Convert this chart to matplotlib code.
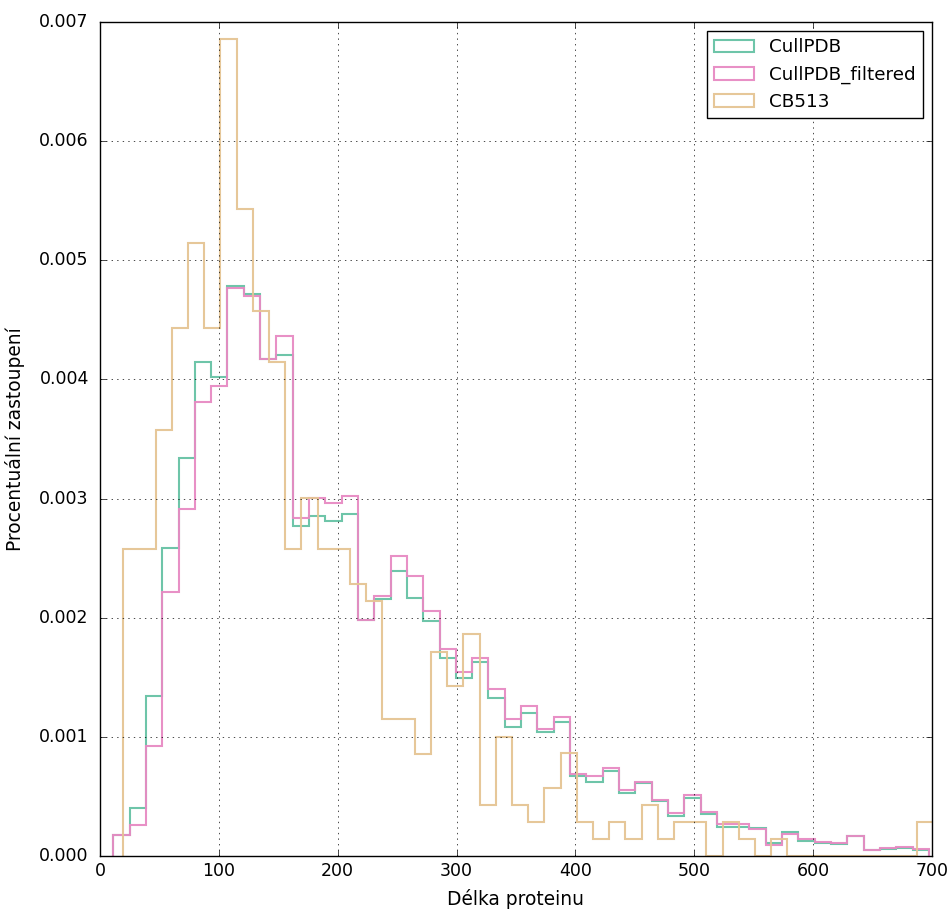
import numpy as np
import matplotlib
matplotlib.use("Agg")
import matplotlib.pyplot as plt

# bin edges, 50 bins each
cull_edges = np.linspace(11.2, 697.4, 51)
cb513_edges = np.linspace(19.5, 701.0, 51)

# CullPDB
cull = [0.000176, 0.00040, 0.001343, 0.002583, 0.003343, 0.004144, 0.004023, 0.004787, 0.004715, 0.004169,
        0.004205, 0.002773, 0.002856, 0.002812, 0.002873, 0.001981, 0.002157, 0.002395, 0.002168, 0.001975,
        0.001665, 0.001497, 0.001631, 0.001323, 0.001086, 0.001203, 0.001038, 0.001122, 0.000674, 0.000624,
        0.000716, 0.000526, 0.000610, 0.000460, 0.000336, 0.000490, 0.000350, 0.000246, 0.000246, 0.000238,
        0.000106, 0.000199, 0.000129, 0.000112, 0.000100, 0.000165, 0.000048, 0.000060, 0.000070, 0.000050]

# CullPDB_filtered
cull_filtered = [0.000176, 0.00026, 0.000926, 0.002213, 0.002913, 0.003814, 0.003945, 0.004765, 0.004698, 0.004169,
                 0.004367, 0.002834, 0.003002, 0.002960, 0.003022, 0.001981, 0.002185, 0.002518, 0.002350, 0.002056,
                 0.001737, 0.001547, 0.001659, 0.001399, 0.001150, 0.001262, 0.001066, 0.001164, 0.000688, 0.000671,
                 0.000736, 0.000554, 0.000618, 0.000470, 0.000358, 0.000512, 0.000372, 0.000265, 0.000269, 0.000227,
                 0.000092, 0.000182, 0.000140, 0.000120, 0.000112, 0.000170, 0.000050, 0.000064, 0.000078, 0.000056]

# CB513
cb513 = [0.002574, 0.002574, 0.003573, 0.004429, 0.005148, 0.004429, 0.006857, 0.005431, 0.004574, 0.004144,
         0.002574, 0.003002, 0.002574, 0.002574, 0.002283, 0.002140, 0.001147, 0.001147, 0.000859, 0.001715,
         0.001430, 0.001861, 0.000425, 0.001002, 0.000428, 0.000283, 0.000568, 0.000862, 0.000283, 0.000143,
         0.000283, 0.000143, 0.000428, 0.000143, 0.000283, 0.000283, 0.0, 0.000283, 0.000140, 0.0,
         0.000140, 0.0, 0.0, 0.0, 0.0, 0.0, 0.0, 0.0, 0.0, 0.000283]

plt.style.use("classic")
plt.rcParams["font.family"] = ["DejaVu Sans"]

fig = plt.figure(figsize=(9.52, 9.09), dpi=100, facecolor="white")
ax = fig.add_axes([0.105, 0.0583, 0.874, 0.9175])

ax.hist(cull_edges[:-1], bins=cull_edges, weights=cull, histtype="step",
        color="#66c2a5", lw=1.5, alpha=0.95, label="CullPDB")
ax.hist(cull_edges[:-1], bins=cull_edges, weights=cull_filtered, histtype="step",
        color="#e78ac3", lw=1.5, alpha=0.95, label="CullPDB_filtered")
ax.hist(cb513_edges[:-1], bins=cb513_edges, weights=cb513, histtype="step",
        color="#e5c494", lw=1.5, alpha=0.95, label="CB513")

ax.set_xlim(0, 700)
ax.set_ylim(0, 0.007)
ax.set_xticks(np.arange(0, 701, 100))
ax.set_yticks(np.arange(0, 0.0071, 0.001))
ax.set_yticklabels(["%.3f" % v for v in np.arange(0, 0.0071, 0.001)])
ax.tick_params(axis="y", pad=8, labelsize=12.5)
ax.tick_params(axis="x", labelsize=12.5)
ax.grid(True)
ax.set_xlabel("Délka proteinu", fontsize=13.4, labelpad=7)
ax.set_ylabel("Procentuální zastoupení", fontsize=13.4, labelpad=10)
ax.legend(loc="upper right", fontsize=13.2, handlelength=2.2)

fig.savefig("out.png", dpi=100, facecolor="white")
